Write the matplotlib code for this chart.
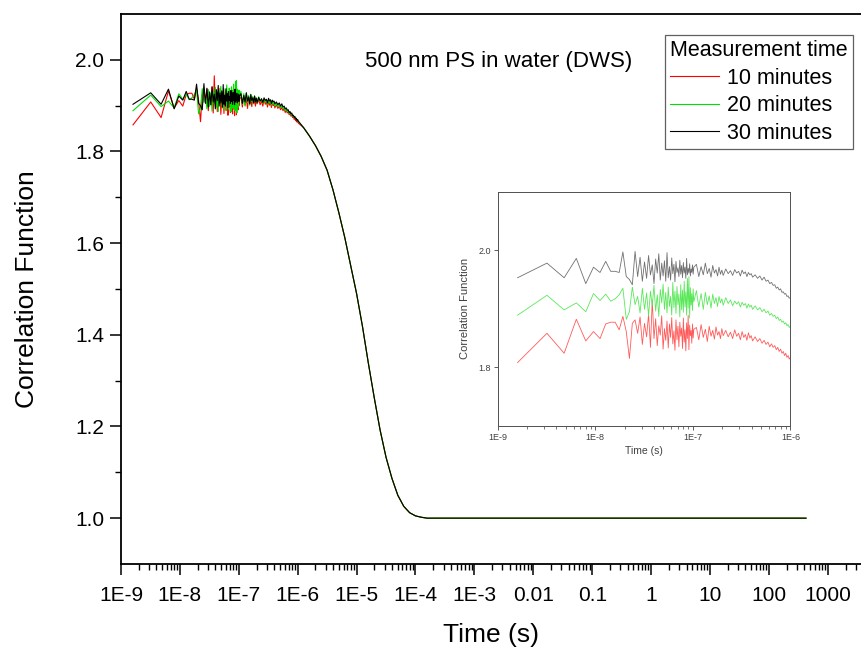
import matplotlib
matplotlib.use("Agg")
import matplotlib.pyplot as plt
import numpy as np
from matplotlib.ticker import FixedLocator, FixedFormatter, LogLocator, NullFormatter

plt.rcParams['font.family'] = ['Liberation Sans', 'DejaVu Sans']

# lag times of the correlator, ns (linear part then multi-tau part)
t_fast_ns = [1.6, 3.2, 4.8, 6.4, 8.0, 9.6, 11.2, 12.8, 14.4, 16.0, 17.6, 19.2,
             20.8, 22.4, 24.0, 25.6,
             27.2, 28.8, 30.4, 32.0, 33.6, 35.2, 36.8, 38.4, 40.0, 41.6, 43.2, 44.8,
             46.4, 48.0, 49.6, 51.2, 52.8, 54.4, 56.0, 57.6, 59.2, 60.8, 62.4, 64.0,
             65.6, 67.2, 68.8, 70.4, 72.0, 73.6, 75.2, 76.8, 78.4, 80.0, 81.6, 83.2,
             84.8, 86.4, 88.0, 89.6, 91.2, 92.8, 94.4, 96.0, 97.6, 99.2, 100.8, 102.4,
             108.8, 115.2, 121.6, 128.0, 134.4, 140.8, 147.2, 153.6, 160.0, 166.4,
             172.8, 179.2, 185.6, 192.0, 198.4, 204.8,
             217.6, 230.4, 243.2, 256.0, 268.8, 281.6, 294.4, 307.2, 320.0, 332.8,
             345.6, 358.4, 371.2, 384.0, 396.8, 409.6,
             435.2, 460.8, 486.4, 512.0, 537.6, 563.2, 588.8, 614.4, 640.0, 665.6,
             691.2, 716.8, 742.4, 768.0, 793.6, 819.2, 844.8, 870.4, 896.0, 921.6,
             947.2, 972.8, 998.4, 1024.0]

g_fast_10 = [1.858, 1.908, 1.874, 1.932, 1.895, 1.911, 1.899, 1.924, 1.927, 1.927, 1.914, 1.937,
             1.911, 1.865, 1.925, 1.931,
             1.908, 1.936, 1.889, 1.925, 1.902, 1.941, 1.884, 1.965, 1.899, 1.933, 1.887, 1.921,
             1.905, 1.938, 1.881, 1.916, 1.896, 1.929, 1.883, 1.924, 1.901, 1.935, 1.890, 1.912,
             1.879, 1.931, 1.897, 1.920, 1.885, 1.927, 1.903, 1.917, 1.882, 1.934, 1.893, 1.914,
             1.878, 1.926, 1.899, 1.939, 1.880, 1.922, 1.904, 1.913, 1.891, 1.924, 1.900, 1.915,
             1.918, 1.897, 1.923, 1.901, 1.915, 1.894, 1.920, 1.903, 1.913, 1.898,
             1.919, 1.905, 1.911, 1.899, 1.916, 1.904,
             1.913, 1.902, 1.910, 1.899, 1.914, 1.903, 1.908, 1.897, 1.911, 1.901,
             1.906, 1.896, 1.909, 1.900, 1.904, 1.895,
             1.902, 1.894, 1.899, 1.891, 1.896, 1.889, 1.893, 1.885, 1.890, 1.884,
             1.887, 1.880, 1.884, 1.877, 1.881, 1.874, 1.877, 1.870, 1.874, 1.867,
             1.870, 1.864, 1.867, 1.862]

g_fast_20 = [1.889, 1.923, 1.898, 1.910, 1.895, 1.926, 1.914, 1.925, 1.913, 1.917, 1.924, 1.935,
             1.882, 1.895, 1.937, 1.907,
             1.921, 1.893, 1.935, 1.899, 1.927, 1.888, 1.930, 1.905, 1.940, 1.896, 1.924, 1.887,
             1.933, 1.910, 1.942, 1.899, 1.928, 1.893, 1.937, 1.904, 1.921, 1.889, 1.945, 1.902,
             1.930, 1.892, 1.938, 1.907, 1.925, 1.886, 1.941, 1.898, 1.932, 1.894, 1.947, 1.903,
             1.929, 1.889, 1.952, 1.901, 1.955, 1.884, 1.936, 1.906, 1.926, 1.897, 1.934, 1.912,
             1.931, 1.903, 1.926, 1.899, 1.928, 1.907, 1.922, 1.901, 1.925, 1.909,
             1.919, 1.904, 1.921, 1.910, 1.917, 1.906,
             1.919, 1.909, 1.915, 1.905, 1.913, 1.908, 1.912, 1.903, 1.911, 1.906,
             1.909, 1.901, 1.908, 1.903, 1.906, 1.899,
             1.905, 1.898, 1.902, 1.895, 1.899, 1.893, 1.896, 1.889, 1.892, 1.887,
             1.889, 1.883, 1.886, 1.880, 1.882, 1.877, 1.879, 1.874, 1.876, 1.871,
             1.873, 1.868, 1.870, 1.866]

g_fast_30 = [1.903, 1.928, 1.903, 1.936, 1.893, 1.921, 1.912, 1.931, 1.914, 1.914, 1.912, 1.947,
             1.905, 1.900, 1.891, 1.948,
             1.905, 1.938, 1.897, 1.930, 1.902, 1.941, 1.908, 1.925, 1.893, 1.935, 1.911, 1.944,
             1.899, 1.928, 1.906, 1.932, 1.897, 1.946, 1.903, 1.922, 1.899, 1.937, 1.910, 1.926,
             1.896, 1.931, 1.912, 1.920, 1.905, 1.933, 1.909, 1.924, 1.903, 1.929, 1.911, 1.921,
             1.902, 1.936, 1.908, 1.919, 1.911, 1.927, 1.906, 1.918, 1.912, 1.925, 1.909, 1.921,
             1.926, 1.905, 1.922, 1.908, 1.928, 1.910, 1.919, 1.904, 1.924, 1.911,
             1.917, 1.906, 1.921, 1.909, 1.916, 1.907,
             1.918, 1.910, 1.915, 1.907, 1.917, 1.911, 1.914, 1.906, 1.916, 1.910,
             1.913, 1.905, 1.912, 1.908, 1.910, 1.904,
             1.908, 1.902, 1.906, 1.899, 1.904, 1.897, 1.899, 1.893, 1.895, 1.890,
             1.891, 1.885, 1.887, 1.882, 1.884, 1.878, 1.879, 1.875, 1.876, 1.871,
             1.872, 1.868, 1.869, 1.866]

# slow part (decay and baseline), same for all three runs
t_slow = [1.26e-6, 1.58e-6, 2.0e-6, 2.51e-6, 3.16e-6, 3.98e-6, 5.01e-6, 6.31e-6, 7.94e-6,
          1.0e-5, 1.26e-5, 1.58e-5, 2.0e-5, 2.51e-5, 3.16e-5, 3.98e-5, 5.01e-5, 6.31e-5,
          7.94e-5, 1.0e-4, 1.26e-4, 1.58e-4, 3.0e-4, 1.0e-3, 1.0e-2, 0.1, 1.0, 10.0, 100.0, 426.0]
g_slow = [1.852, 1.834, 1.813, 1.789, 1.759, 1.716, 1.666, 1.612, 1.551,
          1.490, 1.418, 1.339, 1.262, 1.192, 1.133, 1.087, 1.050, 1.026,
          1.012, 1.005, 1.002, 1.000, 1.000, 1.000, 1.000, 1.000, 1.000, 1.000, 1.000, 1.000]

labels = ['10 minutes', '20 minutes', '30 minutes']
colors = ['#ff0000', '#00e000', '#000000']
inset_colors = ['#ff5a5a', '#5ae85a', '#707070']
inset_shift = [-0.05, 0.0, 0.05]
series = [g_fast_10, g_fast_20, g_fast_30]

t_all = np.concatenate([np.array(t_fast_ns) * 1e-9, t_slow])

fig = plt.figure(figsize=(8.61, 6.5), dpi=100)
ax = fig.add_axes([0.1405, 0.1323, 0.8595, 0.8462])

for g, c, lab in zip(series, colors, labels):
    ax.plot(t_all, np.concatenate([g, g_slow]), color=c, lw=0.8, label=lab)

ax.set_xscale('log')
ax.set_xlim(1e-9, 3.66e3)
ax.set_ylim(0.9, 2.1)

xt = [1e-9, 1e-8, 1e-7, 1e-6, 1e-5, 1e-4, 1e-3, 1e-2, 1e-1, 1, 10, 100, 1000]
xl = ['1E-9', '1E-8', '1E-7', '1E-6', '1E-5', '1E-4', '1E-3', '0.01', '0.1', '1', '10', '100', '1000']
ax.xaxis.set_major_locator(FixedLocator(xt))
ax.xaxis.set_major_formatter(FixedFormatter(xl))
ax.xaxis.set_minor_locator(LogLocator(base=10, subs=np.arange(2, 10), numticks=30))
ax.xaxis.set_minor_formatter(NullFormatter())
ax.yaxis.set_major_locator(FixedLocator([1.0, 1.2, 1.4, 1.6, 1.8, 2.0]))
ax.yaxis.set_minor_locator(FixedLocator([1.1, 1.3, 1.5, 1.7, 1.9]))
ax.yaxis.set_major_formatter(FixedFormatter(['1.0', '1.2', '1.4', '1.6', '1.8', '2.0']))

ax.tick_params(axis='both', which='major', direction='out', length=8, width=1.1, labelsize=15)
ax.tick_params(axis='both', which='minor', direction='out', length=4.5, width=1.0)
ax.tick_params(axis='x', which='major', pad=8)
ax.tick_params(axis='y', which='major', pad=4)
ax.spines['right'].set_visible(False)
for s in ['left', 'bottom', 'top']:
    ax.spines[s].set_linewidth(1.3)

ax.set_xlabel('Time (s)', fontsize=19, labelpad=13)
ax.set_ylabel('Correlation Function', fontsize=19, labelpad=26)

fig.text(0.424, 0.905, '500 nm PS in water (DWS)', fontsize=16, ha='left', va='center')

leg = ax.legend(title='Measurement time', loc='upper right',
                bbox_to_anchor=(0.9907, 0.946), bbox_transform=fig.transFigure,
                fontsize=15.5, title_fontsize=15.5, frameon=True, fancybox=False,
                framealpha=1, edgecolor='#606060', borderpad=0.25, labelspacing=0.3,
                handlelength=2.3, handletextpad=0.35, borderaxespad=0)
leg.get_frame().set_linewidth(0.9)
leg._legend_box.align = 'left'

# inset: first microsecond, runs shifted apart
axin = fig.add_axes([0.578, 0.345, 0.340, 0.360])
for g, c, sh in zip(series, inset_colors, inset_shift):
    axin.plot(t_all, np.concatenate([g, g_slow]) + sh, color=c, lw=0.6)
axin.set_xscale('log')
axin.set_xlim(1e-9, 1e-6)
axin.set_ylim(1.7, 2.1)
axin.xaxis.set_major_locator(FixedLocator([1e-9, 1e-8, 1e-7, 1e-6]))
axin.xaxis.set_major_formatter(FixedFormatter(['1E-9', '1E-8', '1E-7', '1E-6']))
axin.xaxis.set_minor_locator(LogLocator(base=10, subs=np.arange(2, 10), numticks=10))
axin.xaxis.set_minor_formatter(NullFormatter())
axin.yaxis.set_major_locator(FixedLocator([1.8, 2.0]))
axin.yaxis.set_major_formatter(FixedFormatter(['1.8', '2.0']))
axin.tick_params(axis='both', which='major', direction='out', length=3, width=0.6,
                 labelsize=6.5, colors='#404040', pad=2)
axin.tick_params(axis='both', which='minor', direction='out', length=1.8, width=0.5,
                 colors='#404040')
for s in axin.spines.values():
    s.set_linewidth(0.7)
    s.set_color('#505050')
axin.set_xlabel('Time (s)', fontsize=7.5, color='#404040', labelpad=3)
axin.set_ylabel('Correlation Function', fontsize=8, color='#404040', labelpad=6)

fig.savefig('out.png', dpi=100)
